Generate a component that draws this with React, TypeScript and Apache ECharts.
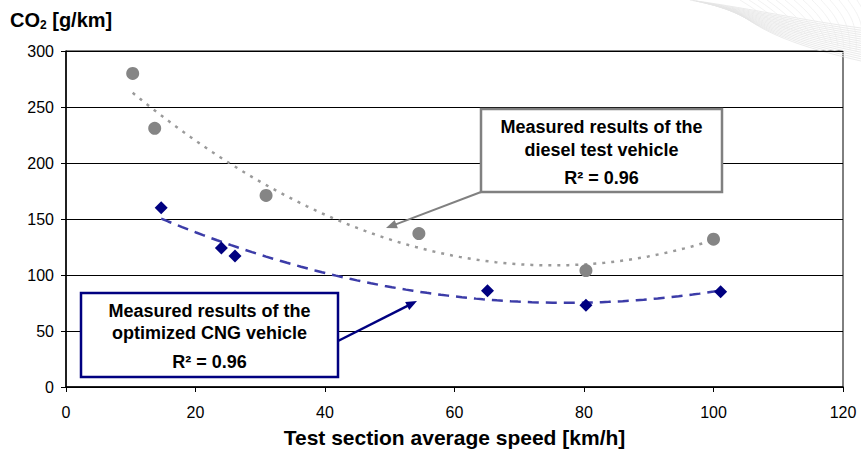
import React, { useEffect, useRef } from "react";
import * as echarts from "echarts";

// ---- data ----
const speedDiesel = [10.3, 13.7, 30.9, 54.5, 80.3, 100.0];
const co2Diesel = [280, 231, 171, 137, 104, 132];
const speedCng = [14.7, 24.0, 26.1, 65.1, 80.3, 101.1];
const co2Cng = [160, 124, 117, 86, 73, 85];

const xTicks = { min: 0, max: 120, interval: 20 };
const yTicks = { min: 0, max: 300, interval: 50 };

const yTitle = "CO";
const xTitle = "Test section average speed [km/h]";
const dieselLabel = ["Measured results of the", "diesel test vehicle", "R² = 0.96"];
const cngLabel = ["Measured results of the", "optimized CNG vehicle", "R² = 0.96"];

const FONT = "'Liberation Sans', Arial, sans-serif";

// second-order least-squares trend line (as the spreadsheet trendline)
function quadFit(xs: number[], ys: number[]) {
  const S = (f: (x: number, y: number) => number) =>
    xs.reduce((a, x, i) => a + f(x, ys[i]), 0);
  const n = xs.length;
  const sx = S((x) => x), sx2 = S((x) => x * x), sx3 = S((x) => x ** 3), sx4 = S((x) => x ** 4);
  const sy = S((_, y) => y), sxy = S((x, y) => x * y), sx2y = S((x, y) => x * x * y);
  const M = [
    [n, sx, sx2, sy],
    [sx, sx2, sx3, sxy],
    [sx2, sx3, sx4, sx2y],
  ];
  for (let i = 0; i < 3; i++) {
    for (let k = i + 1; k < 3; k++) {
      const f = M[k][i] / M[i][i];
      for (let j = i; j < 4; j++) M[k][j] -= f * M[i][j];
    }
  }
  const c = [0, 0, 0];
  for (let i = 2; i >= 0; i--) {
    let s = M[i][3];
    for (let j = i + 1; j < 3; j++) s -= M[i][j] * c[j];
    c[i] = s / M[i][i];
  }
  return (x: number) => c[0] + c[1] * x + c[2] * x * x;
}

function trend(xs: number[], ys: number[]) {
  const f = quadFit(xs, ys);
  const lo = Math.min(...xs), hi = Math.max(...xs);
  const pts: number[][] = [];
  const steps = 80;
  for (let i = 0; i <= steps; i++) {
    const x = lo + ((hi - lo) * i) / steps;
    pts.push([x, f(x)]);
  }
  return pts;
}

function arrow(x1: number, y1: number, x2: number, y2: number, color: string, w: number) {
  const dx = x2 - x1, dy = y2 - y1;
  const L = Math.hypot(dx, dy);
  const ux = dx / L, uy = dy / L;
  const hl = 11, hw = 4.5;
  const bx = x2 - ux * hl, by = y2 - uy * hl;
  return [
    {
      type: "line",
      shape: { x1, y1, x2: bx + ux * 2, y2: by + uy * 2 },
      style: { stroke: color, lineWidth: w },
      z: 100,
    },
    {
      type: "polygon",
      shape: {
        points: [
          [x2, y2],
          [bx - uy * hw, by + ux * hw],
          [bx + uy * hw, by - ux * hw],
        ],
      },
      style: { fill: color },
      z: 100,
    },
  ];
}

function labelBox(
  x: number, y: number, w: number, h: number, color: string, lines: string[], ys: number[]
) {
  const els: any[] = [
    {
      type: "rect",
      shape: { x, y, width: w, height: h },
      style: { fill: "#fff", stroke: color, lineWidth: 2.5 },
      z: 100,
    },
  ];
  lines.forEach((t, i) => {
    els.push({
      type: "text",
      x: x + w / 2,
      y: ys[i],
      style: {
        text: t,
        fill: "#000",
        font: `bold 18px ${FONT}`,
        align: "center",
        verticalAlign: "middle",
      },
      z: 101,
    });
  });
  return els;
}

function watermark() {
  const els: any[] = [];
  for (let i = 0; i < 16; i++) {
    els.push({
      type: "bezierCurve",
      shape: {
        x1: 690 + i * 3, y1: 0 + i * 0.6,
        cpx1: 760, cpy1: 10 + i * 1.5,
        cpx2: 800, cpy2: 20 + i * 1.8,
        x2: 861, y2: 28 + i * 2.2,
      },
      style: { stroke: "#e4e4e4", lineWidth: 0.8, fill: null },
      z: 0,
    });
  }
  for (let i = 0; i < 14; i++) {
    els.push({
      type: "bezierCurve",
      shape: {
        x1: 740 + i * 9, y1: 0,
        cpx1: 760 + i * 8, cpy1: 12,
        cpx2: 770 + i * 8, cpy2: 22,
        x2: 790 + i * 6, y2: 30 + i * 2,
      },
      style: { stroke: "#ececec", lineWidth: 0.7, fill: null },
      z: 0,
    });
  }
  return els;
}

export default function App() {
  const ref = useRef<HTMLDivElement>(null);
  useEffect(() => {
    if (!ref.current) return;
    const chart = echarts.init(ref.current, undefined, { renderer: "svg" });
    const option: any = {
      animation: false,
      backgroundColor: "#fff",
      textStyle: { fontFamily: FONT },
      grid: {
        left: 66, right: 18, top: 51, bottom: 70,
        containLabel: false,
        outerBoundsMode: "none",
        show: true, borderColor: "#000", borderWidth: 1, backgroundColor: "transparent",
      },
      xAxis: {
        type: "value",
        ...xTicks,
        name: xTitle,
        nameLocation: "middle",
        nameGap: 40,
        nameTextStyle: { fontSize: 21, fontWeight: "bold", color: "#000", fontFamily: FONT },
        axisLine: { show: true, lineStyle: { color: "#000", width: 1.5 } },
        axisTick: { show: true, length: 5, lineStyle: { color: "#000" } },
        axisLabel: { color: "#000", fontSize: 16, margin: 17, fontFamily: FONT },
        splitLine: { show: false },
      },
      yAxis: {
        type: "value",
        ...yTicks,
        axisLine: { show: true, lineStyle: { color: "#000", width: 1.5 } },
        axisTick: { show: true, length: 5, lineStyle: { color: "#000" } },
        axisLabel: { color: "#000", fontSize: 16, margin: 12, fontFamily: FONT },
        splitLine: { show: true, lineStyle: { color: "#000", width: 1 } },
      },
      series: [
        {
          name: "diesel trend",
          type: "line",
          data: trend(speedDiesel, co2Diesel),
          showSymbol: false,
          symbol: "none",
          lineStyle: { color: "#9a9a9a", width: 2.5, type: [3, 6] },
          z: 3,
        },
        {
          name: "CNG trend",
          type: "line",
          data: trend(speedCng, co2Cng),
          showSymbol: false,
          symbol: "none",
          lineStyle: { color: "#3c3ca8", width: 2.5, type: [11, 7] },
          z: 3,
        },
        {
          name: "diesel",
          type: "scatter",
          data: speedDiesel.map((x, i) => [x, co2Diesel[i]]),
          symbol: "circle",
          symbolSize: 13,
          itemStyle: { color: "#858585", opacity: 1 },
          z: 4,
        },
        {
          name: "CNG",
          type: "scatter",
          data: speedCng.map((x, i) => [x, co2Cng[i]]),
          symbol: "diamond",
          symbolSize: [13, 13],
          itemStyle: { color: "#000080", opacity: 1 },
          z: 4,
        },
      ],
      graphic: [
        ...watermark(),
        {
          type: "text",
          x: 10,
          y: 20,
          style: {
            text: `{a|${yTitle}}{s|2}{a| [g/km]}`,
            verticalAlign: "middle",
            rich: {
              a: { font: `bold 20px ${FONT}`, fill: "#000" },
              s: { font: `bold 12px ${FONT}`, fill: "#000", padding: [9, 0, 0, 0] },
            },
          },
        },
        ...labelBox(481, 109, 241, 83, "#808080", dieselLabel, [127, 150, 178]),
        ...arrow(481, 192, 386, 228, "#808080", 2),
        ...labelBox(81, 293, 257, 84, "#000080", cngLabel, [311, 333, 362]),
        ...arrow(338, 341, 417, 301, "#000080", 2.5),
      ],
    };
    chart.setOption(option);
    return () => chart.dispose();
  }, []);
  return (
    <div
      ref={ref}
      style={{ position: "fixed", left: 0, top: 0, width: 861, height: 457, background: "#fff" }}
    />
  );
}
